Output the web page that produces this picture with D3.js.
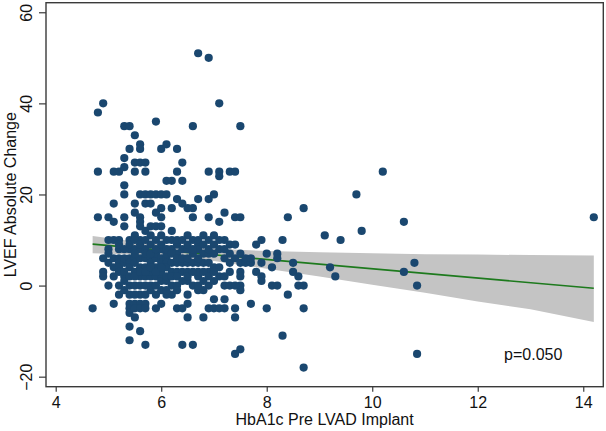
<!DOCTYPE html>
<html>
<head>
<meta charset="utf-8">
<script src="https://cdn.jsdelivr.net/npm/d3@7"></script>
<style>
  html, body { margin: 0; padding: 0; background: #fff; }
  svg { display: block; }
  text { font-family: "Liberation Sans", Arial, sans-serif; fill: #111; }
</style>
</head>
<body>
<svg id="chart" width="606" height="431"></svg>
<script>
// ---------- DATA ----------
const hba1c = [
  4.7,
  4.8,4.8,4.8,
  4.9,4.9,4.9,4.9,
  5.0,5.0,5.0,5.0,
  5.1,5.1,5.1,5.1,5.1,5.1,
  5.2,5.2,5.2,5.2,5.2,5.2,5.2,
  5.3,5.3,5.3,5.3,5.3,5.3,5.3,5.3,5.3,5.3,5.3,
  5.4,5.4,5.4,5.4,5.4,5.4,5.4,5.4,5.4,5.4,5.4,5.4,5.4,
  5.5,5.5,5.5,5.5,5.5,5.5,5.5,5.5,5.5,5.5,5.5,5.5,5.5,
  5.6,5.6,5.6,5.6,5.6,5.6,5.6,5.6,5.6,5.6,5.6,5.6,5.6,5.6,5.6,5.6,
  5.7,5.7,5.7,5.7,5.7,5.7,5.7,5.7,5.7,5.7,5.7,5.7,
  5.8,5.8,5.8,5.8,5.8,5.8,5.8,5.8,5.8,
  5.9,5.9,5.9,5.9,5.9,5.9,5.9,5.9,5.9,5.9,5.9,
  6.0,6.0,6.0,6.0,6.0,6.0,6.0,6.0,6.0,6.0,6.0,6.0,6.0,
  6.1,6.1,6.1,6.1,6.1,6.1,6.1,6.1,6.1,6.1,
  6.2,6.2,6.2,6.2,6.2,6.2,6.2,6.2,
  6.3,6.3,6.3,6.3,6.3,6.3,6.3,6.3,6.3,
  6.4,6.4,6.4,6.4,6.4,6.4,6.4,6.4,
  6.5,6.5,6.5,6.5,6.5,6.5,6.5,6.5,6.5,
  6.6,6.6,6.6,6.6,6.6,6.6,6.6,6.6,
  6.7,6.7,6.7,6.7,6.7,6.7,6.7,6.7,
  6.8,6.8,6.8,6.8,6.8,
  6.9,6.9,6.9,6.9,6.9,6.9,6.9,6.9,6.9,
  7.0,7.0,7.0,7.0,7.0,7.0,7.0,
  7.1,7.1,7.1,7.1,7.1,7.1,7.1,7.1,
  7.2,7.2,7.2,7.2,7.2,7.2,
  7.3,7.3,7.3,7.3,7.3,7.3,
  7.4,7.4,7.4,7.4,7.4,7.4,
  7.5,7.5,7.5,7.5,7.5,7.5,7.5,7.5,
  7.6,7.6,
  7.7,7.7,7.7,
  7.8,7.8,
  7.9,7.9,7.9,7.9,
  8.0,8.0,
  8.1,8.1,
  8.2,8.2,8.2,
  8.3,8.3,
  8.4,8.4,
  8.5,8.5,
  8.6,8.6,
  8.7,8.7,8.7,8.7,
  9.1, 9.2, 9.3, 9.4, 9.7, 9.8, 10.2,
  10.6,10.6,
  10.8, 10.85,10.85,
  14.2,
  // dense core
  5.0,5.0,
  5.1,5.1,
  5.2,5.2,5.2,
  5.3,5.3,5.3,
  5.4,5.4,5.4,
  5.5,5.5,5.5,5.5,5.5,
  5.6,5.6,5.6,
  5.7,5.7,5.7,5.7,5.7,
  5.8,5.8,5.8,5.8,
  5.9,5.9,5.9,
  6.0,6.0,6.0,
  6.1,6.1,6.1,
  6.2,6.2,6.2,
  6.3,6.3,6.3,6.3,
  6.4,6.4,6.4,
  6.5,6.5,6.5,
  6.6,6.6,
  6.7,6.7,6.7,
  6.8,6.8,6.8,
  6.9,6.9,6.9,
  7.0,7.0,
  7.1,
  7.2,7.2,
  7.4,7.4,
  7.5
];
const lvefChange = [
  -5,
  38,25,15,
  40,6,3,2,
  15,10,8,5,
  25,18,14,6,-4,4,
  25,10,8,6,5,-2,4,
  35,28,26,22,20,15,13,5,2,1,6,
  35,30,10,8,6,5,4,-2,-4,-5,-6,-9,-12,
  33,27,25,18,16,11,8,6,5,-4,-5,-7,3,
  31,30,27,20,15,14,13,10,8,6,2,-2,-4,-5,-10,4,
  27,25,20,18,8,6,2,-4,-5,-13,12,4,
  20,18,13,11,6,5,2,3,0,
  36,20,16,13,10,6,2,-2,-5,7,4,
  30,20,17,15,13,11,6,5,2,1,-4,8,3,
  31,23,20,10,6,5,1,-2,4,7,
  23,17,10,5,0,-2,8,3,
  30,25,19,5,0,-5,9,7,3,
  27,23,18,5,-5,-13,8,3,
  17,11,5,1,-2,-4,-7,8,3,
  35,17,15,10,5,0,-13,7,
  51,19,9,8,5,2,-1,3,
  11,5,-1,-7,7,
  50,25,19,15,7,0,-5,5,3,
  20,11,4,1,-3,-5,7,
  40,25,24,14,4,2,-5,8,
  16,10,6,0,-3,-5,
  25,9,7,5,0,3,
  25,15,-5,-7,-15,6,
  35,15,5,0,-1,-14,7,3,
  5,6,
  5,-4,6,
  9,3,
  10,5,2,1,
  7,-5,
  4,0,
  7,6,0,
  10,-11,
  15,-2,
  5,3,
  2,0,
  17,0,-5,-18,
  11, 4, 2, 10, 20, 12, 25,
  14,3,
  5, 0,-15,
  15,
  // dense core
  7,0,
  10,2,
  9,3,0,
  8,3,-1,
  9,2,0,
  10,7,2,0,-2,
  9,3,0,
  10,7,3,0,-2,
  9,7,4,-1,
  8,3,0,
  9,4,-1,
  8,2,-1,
  12,7,2,
  10,6,2,-1,
  10,6,1,
  9,6,2,
  8,3,
  10,6,0,
  9,3,1,
  10,8,2,
  9,3,
  10,
  8,2,
  9,0,
  2
];

// Linear fit with 95% CI band
const fitX     = [4.7, 14.2];
const fitY     = [9.1, -0.6];
const ciX      = [4.7, 5.5, 6.3, 7.0, 8.0, 9.0, 10.0, 11.0, 12.0, 13.0, 14.2];
const ciLower  = [7.1, 6.8, 6.2, 5.4, 3.7, 2.0, 0.2, -1.6, -3.5, -5.2, -8.0];
const ciUpper  = [10.9, 9.7, 8.7, 8.1, 7.6, 7.3, 7.1, 6.9, 6.8, 6.7, 6.6];

const xTicks = [4, 6, 8, 10, 12, 14];
const yTicks = [-20, 0, 20, 40, 60];
const xTitle = "HbA1c Pre LVAD Implant";
const yTitle = "LVEF Absolute Change";
const pLabel = "p=0.050";

// ---------- LAYOUT ----------
const L = 46, R = 603.3, T = 2.7, B = 386.7;
const svg = d3.select("#chart");

const x = d3.scaleLinear().domain([3.816, 14.38]).range([L, R]);
const y = d3.scaleLinear().domain([-22.2, 62.1]).range([B, T]);

// CI band
const ci = ciX.map((v, i) => ({x: v, lo: ciLower[i], hi: ciUpper[i]}));
svg.append("path")
  .datum(ci)
  .attr("fill", "#c4c4c4")
  .attr("d", d3.area().x(d => x(d.x)).y0(d => y(d.lo)).y1(d => y(d.hi)));

// fit line
svg.append("path")
  .datum(fitX.map((v, i) => ({x: v, y: fitY[i]})))
  .attr("fill", "none")
  .attr("stroke", "#1d7a1d")
  .attr("stroke-width", 1.6)
  .attr("d", d3.line().x(d => x(d.x)).y(d => y(d.y)));

// points
svg.append("g")
  .selectAll("circle")
  .data(hba1c.map((v, i) => ({x: v, y: lvefChange[i]})))
  .join("circle")
  .attr("cx", d => x(d.x))
  .attr("cy", d => y(d.y))
  .attr("r", 4.1)
  .attr("fill", "#1a476f");

// frame
svg.append("rect")
  .attr("x", L).attr("y", T)
  .attr("width", R - L).attr("height", B - T)
  .attr("fill", "none").attr("stroke", "#3a3a3a").attr("stroke-width", 1.4);

// x axis
const xAxis = svg.append("g")
  .attr("transform", `translate(0,${B})`)
  .call(d3.axisBottom(x).tickValues(xTicks).tickSize(5).tickSizeOuter(0).tickFormat(d3.format("d")));
xAxis.select(".domain").remove();
xAxis.selectAll(".tick line").attr("stroke", "#3a3a3a").attr("stroke-width", 1.2);
xAxis.selectAll(".tick text")
  .attr("y", 21.6).attr("dy", null)
  .style("font-size", "16px").style("font-family", "Liberation Sans, Arial, sans-serif").attr("fill", "#111");

// y axis
const yAxis = svg.append("g")
  .attr("transform", `translate(${L},0)`)
  .call(d3.axisLeft(y).tickValues(yTicks).tickSize(7).tickSizeOuter(0).tickFormat(d3.format("d")));
yAxis.select(".domain").remove();
yAxis.selectAll(".tick line").attr("stroke", "#3a3a3a").attr("stroke-width", 1.2);
yAxis.selectAll(".tick text")
  .attr("x", null).attr("dy", null)
  .attr("text-anchor", "middle")
  .attr("transform", "translate(-14.3,0) rotate(-90)")
  .style("font-size", "16px").style("font-family", "Liberation Sans, Arial, sans-serif").attr("fill", "#111");

// titles
svg.append("text")
  .attr("x", (L + R) / 2).attr("y", 425)
  .attr("text-anchor", "middle")
  .style("font-size", "16px")
  .text(xTitle);

svg.append("text")
  .attr("transform", `translate(15.5,${(T + B) / 2}) rotate(-90)`)
  .attr("text-anchor", "middle")
  .style("font-size", "16px")
  .text(yTitle);

// p-value annotation
svg.append("text")
  .attr("x", x(12.5)).attr("y", 360)
  .attr("text-anchor", "start")
  .style("font-size", "16px")
  .text(pLabel);
</script>
</body>
</html>
